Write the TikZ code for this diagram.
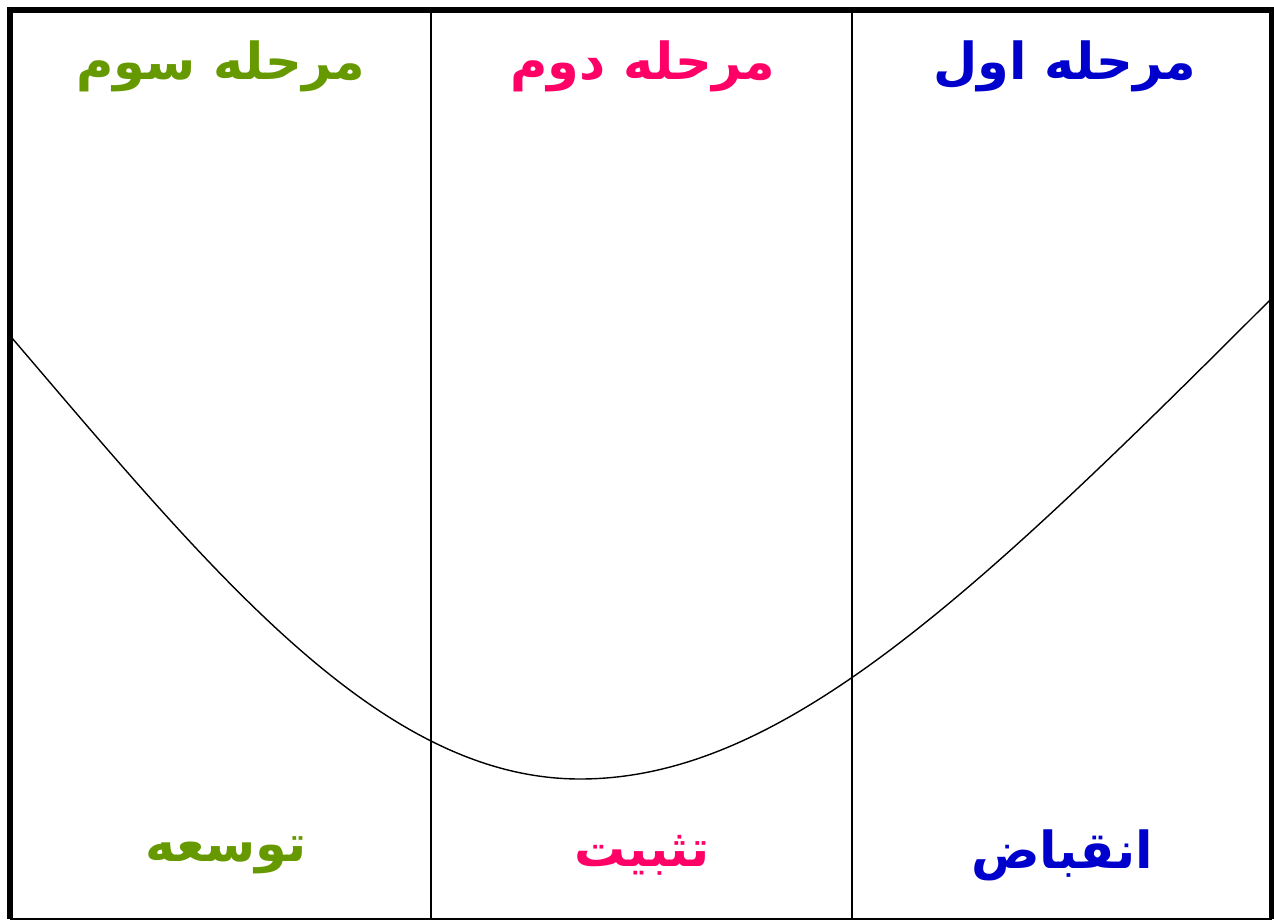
\documentclass[tikz,border=0pt]{standalone}
\usepackage{fontspec}
\usepackage{tikz}
\usetikzlibrary{positioning}
\TeXXeTstate=1
\newfontfamily\arabicfont[Script=Arabic]{DejaVu Sans}
\definecolor{stageone}{RGB}{0,0,204}
\definecolor{stagetwo}{RGB}{255,0,102}
\definecolor{stagethree}{RGB}{102,153,0}
\tikzset{
  label/.style={font=\arabicfont\bfseries\fontsize{51}{60}\selectfont,inner sep=0pt}
}

\begin{document}
\begin{tikzpicture}[x=1pt,y=-1pt]
  \useasboundingbox (0,0) rectangle (1274,920);
  % ---- frame and column rules ----
  \draw[line width=6pt] (10,919) -- (10,10) -- (1272,10) -- (1272,919);
  \draw[line width=1.5pt] (10,919) -- (1272,919);
  \draw[line width=2pt] (431,10) -- (431,920);
  \draw[line width=2pt] (852,10) -- (852,920);
  % ---- U-shaped curve ----
  \coordinate (low) at (580,779);
  \draw[line width=1.4pt] (12,338) .. controls (212,572) and (380,779) .. (low)
        .. controls (780,779) and (970,600) .. (1270,300);
  % ---- stage titles ----
  \node[label,stagethree] (t3) at (221,66) {\beginR مرحله سوم\endR};
  \node[label,stagetwo]   (t2) at (643,66) {\beginR مرحله دوم\endR};
  \node[label,stageone]   (t1) at (1065,66) {\beginR مرحله اول\endR};
  % ---- stage names ----
  \node[label,stagethree] (b3) at (226,855) {\beginR توسعه\endR};
  \node[label,stagetwo]   (b2) at (642,855) {\beginR تثبیت\endR};
  \node[label,stageone]   (b1) at (1062,855) {\beginR انقباض\endR};
\end{tikzpicture}
\end{document}
